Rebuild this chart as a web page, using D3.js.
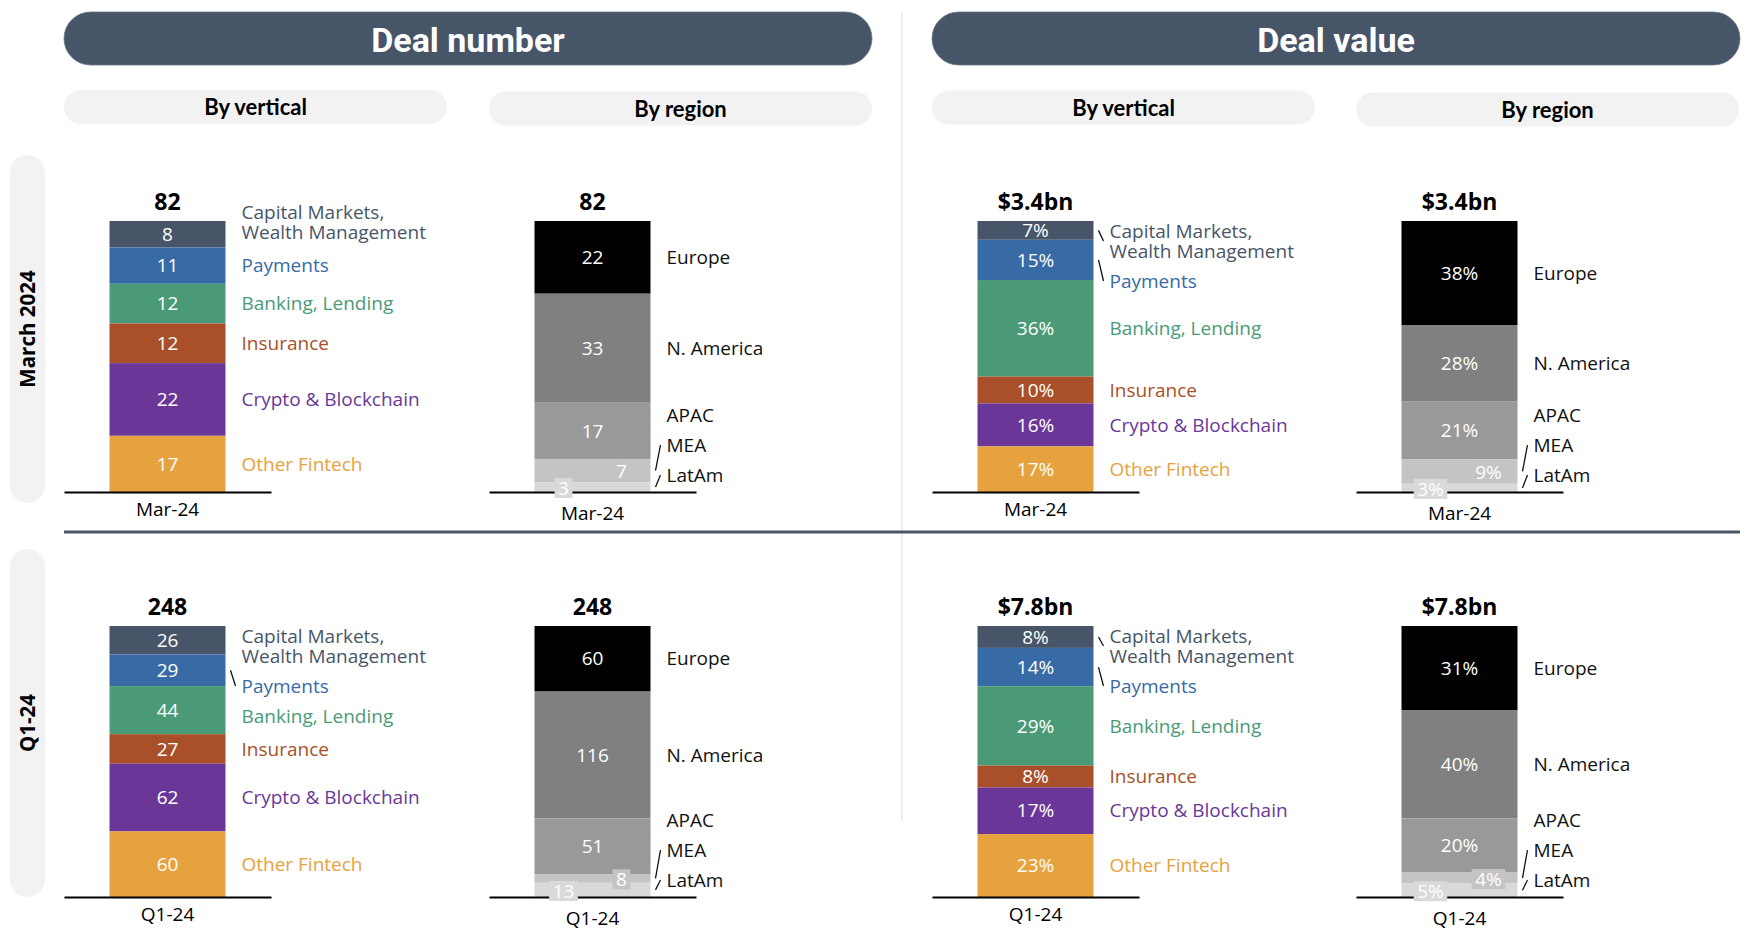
<!DOCTYPE html>
<html><head><meta charset="utf-8">
<script src="https://cdn.jsdelivr.net/npm/d3@7"></script>
<style>body{margin:0;background:#fff}</style>
</head><body><svg id="c" width="1762" height="940"></svg>
<script>
// ---------------- DATA ----------------
const periods = ["Mar-24", "Q1-24"];
const rowTitles = ["March 2024", "Q1-24"];
const sectionTitles = ["Deal number", "Deal value"];
const panelTitles = ["By vertical", "By region"];
const verticals = ["Capital Markets,\nWealth Management", "Payments", "Banking, Lending", "Insurance", "Crypto & Blockchain", "Other Fintech"];
const regions = ["Europe", "N. America", "APAC", "MEA", "LatAm"];
const numberByVerticalMar = [8, 11, 12, 12, 22, 17];
const numberByVerticalQ1 = [26, 29, 44, 27, 62, 60];
const numberByRegionMar = [22, 33, 17, 7, 3];
const numberByRegionQ1 = [60, 116, 51, 8, 13];
const valueByVerticalMar = [7, 15, 36, 10, 16, 17];
const valueByVerticalQ1 = [8, 14, 29, 8, 17, 23];
const valueByRegionMar = [38, 28, 21, 9, 3];
const valueByRegionQ1 = [31, 40, 20, 4, 5];
const valueTotalsBn = [3.4, 7.8];

// ---------------- STYLE / LAYOUT ----------------
const verticalColors = ["#485569", "#386ba5", "#4a9a78", "#a9502a", "#6a3799", "#e6a23e"];
const regionColors = ["#000000", "#808080", "#999999", "#c4c4c4", "#d9d9d9"];
const FONT = "'Open Sans', sans-serif";
const svg = d3.select("#c");

const dataTable = {
  "0-vertical": [numberByVerticalMar, numberByVerticalQ1],
  "0-region": [numberByRegionMar, numberByRegionQ1],
  "1-vertical": [valueByVerticalMar, valueByVerticalQ1],
  "1-region": [valueByRegionMar, valueByRegionQ1]
};
const cols = [
  {x0: 64, section: 0, kind: "vertical", pillY: 90},
  {x0: 489, section: 0, kind: "region", pillY: 91.5},
  {x0: 932, section: 1, kind: "vertical", pillY: 90.5},
  {x0: 1356, section: 1, kind: "region", pillY: 92.5}
];
const rows = [{axisY: 492, pillY: 155}, {axisY: 897, pillY: 549}];
const barH = 271, axisW = 207, pillW = 383;
const labelModes = {"0-0": "up"};
const insetPos = {3: 0.75, 4: 0.25}; // region small segments: label x position within bar

// section title pills
sectionTitles.forEach((t, s) => {
  const x = s === 0 ? 64 : 932;
  svg.append("rect").attr("x", x).attr("y", 12).attr("width", 808).attr("height", 53)
    .attr("rx", 26.5).attr("fill", "#475569").attr("stroke", "#6b7789").attr("stroke-width", 0.8);
  svg.append("text").attr("x", x + 404).attr("y", 39.5).attr("dy", "0.355em")
    .attr("text-anchor", "middle").attr("fill", "#fff")
    .style("font-family", "Roboto, sans-serif").style("font-weight", 700).style("font-size", "34px").text(t);
});

// sub pills
cols.forEach(c => {
  svg.append("rect").attr("x", c.x0).attr("y", c.pillY).attr("width", pillW).attr("height", 34)
    .attr("rx", 17).attr("fill", "#f2f2f2");
  svg.append("text").attr("x", c.x0 + pillW / 2).attr("y", c.pillY + 17.5).attr("dy", "0.35em")
    .attr("text-anchor", "middle").attr("fill", "#000")
    .style("font-family", "Lato, sans-serif").style("font-weight", 700).style("font-size", "22px")
    .text(panelTitles[c.kind === "vertical" ? 0 : 1]);
});

// row pills
rows.forEach((r, i) => {
  svg.append("rect").attr("x", 10).attr("y", r.pillY).attr("width", 35).attr("height", 348)
    .attr("rx", 17.5).attr("fill", "#f2f2f2");
  svg.append("text").attr("transform", `translate(27.5,${r.pillY + 174}) rotate(-90)`)
    .attr("dy", "0.36em").attr("text-anchor", "middle").attr("fill", "#000")
    .style("font-family", FONT).style("font-weight", 700).style("font-size", "20.5px").text(rowTitles[i]);
});

// separators
svg.append("line").attr("x1", 902).attr("x2", 902).attr("y1", 13).attr("y2", 820)
  .attr("stroke", "#e6e6e6").attr("stroke-width", 1.5);
svg.append("line").attr("x1", 64).attr("x2", 1740).attr("y1", 532).attr("y2", 532)
  .attr("stroke", "#4a5568").attr("stroke-width", 3);

function layoutLabels(items, top, bottom, mode) {
  const half = it => (it.n - 1) * 10;
  if (mode === "down") {
    items.forEach((it, i) => {
      const minF = i === 0 ? top + 10 : items[i - 1].c + half(items[i - 1]) + 30;
      if (it.c - half(it) < minF) it.c = minF + half(it);
    });
  }
  for (let i = items.length - 1; i >= 0; i--) {
    const it = items[i];
    const maxL = i === items.length - 1 ? bottom - 17 : items[i + 1].c - half(items[i + 1]) - (mode === "up" ? 33 : 30);
    if (it.c + half(it) > maxL) it.c = maxL - half(it);
  }
}

function drawPanel(col, ri, ci) {
  const row = rows[ri];
  const values = dataTable[col.section + "-" + col.kind][ri];
  const cats = col.kind === "vertical" ? verticals : regions;
  const colors = col.kind === "vertical" ? verticalColors : regionColors;
  const total = d3.sum(values);
  const period = periods[ri];
  const x = d3.scaleBand().domain([period]).range([col.x0, col.x0 + axisW]).padding(0.2818);
  const y = d3.scaleLinear().domain([0, total]).range([row.axisY, row.axisY - barH]);
  const bx = x(period), bw = x.bandwidth();
  const g = svg.append("g");

  const cum = d3.cumsum(values);
  const segs = values.map((v, i) => {
    const above = cum[i] - v;
    return {i, v, top: y(total - above), bot: y(total - above - v)};
  });

  g.selectAll("rect.seg").data(segs).join("rect").attr("class", "seg")
    .attr("x", bx).attr("width", bw)
    .attr("y", d => d.top).attr("height", d => d.bot - d.top)
    .attr("fill", d => colors[d.i]);

  // axis
  const ax = g.append("g").attr("transform", `translate(0,${row.axisY})`)
    .call(d3.axisBottom(x).tickSize(0).tickSizeOuter(0).tickPadding(col.kind === "vertical" ? 10.5 : 14.5));
  ax.select(".domain").attr("stroke", "#000").attr("stroke-width", 2);
  ax.selectAll("text").style("font-family", FONT).style("font-size", "19px").attr("fill", "#000");

  // segment value labels
  const fmt = v => col.section === 0 ? String(v) : v + "%";
  segs.forEach(d => {
    const inset = col.kind === "region" && insetPos[d.i] !== undefined;
    const cx = inset ? bx + bw * insetPos[d.i] : bx + bw / 2;
    const cy = (d.top + d.bot) / 2 + (inset ? 1 : 0);
    const t = g.append("text").attr("x", cx).attr("y", cy).attr("dy", "0.35em")
      .attr("text-anchor", "middle").attr("fill", "#fff")
      .style("font-family", FONT).style("font-size", "19px").text(fmt(d.v));
    if (inset) {
      const w = t.node().getComputedTextLength() + 7;
      g.insert("rect", () => t.node()).attr("x", cx - w / 2).attr("y", cy - 10).attr("width", w).attr("height", 20)
        .attr("fill", colors[d.i]);
    }
  });

  // total label
  const totalText = col.section === 0 ? String(total) : "$" + valueTotalsBn[ri] + "bn";
  g.append("text").attr("x", bx + bw / 2).attr("y", y(total) - 11).attr("text-anchor", "middle")
    .attr("fill", "#000").style("font-family", FONT).style("font-weight", 700).style("font-size", "23px")
    .text(totalText);

  // category labels
  const items = segs.map(d => ({i: d.i, c: (d.top + d.bot) / 2, n: cats[d.i].split("\n").length, seg: d}));
  layoutLabels(items, y(total), y(0), labelModes[ri + "-" + ci] || "down");
  const lx = bx + bw + 16;
  items.forEach(it => {
    const lines = cats[it.i].split("\n");
    const t = g.append("text").attr("x", lx)
      .attr("fill", col.kind === "vertical" ? colors[it.i] : "#111")
      .style("font-family", FONT).style("font-size", "19px");
    lines.forEach((ln, k) => {
      t.append("tspan").attr("x", lx).attr("y", it.c - (lines.length - 1) * 10 + k * 20)
        .attr("dy", "0.35em").text(ln);
    });
    const sc = (it.seg.top + it.seg.bot) / 2;
    if (it.c < it.seg.top - 2 || it.c > it.seg.bot - 3) {
      g.append("line").attr("x1", bx + bw + 5).attr("y1", sc).attr("x2", bx + bw + 10).attr("y2", it.c)
        .attr("stroke", "#111").attr("stroke-width", 1.3);
    }
  });
}

rows.forEach((r, ri) => cols.forEach((c, ci) => drawPanel(c, ri, ci)));
</script>
</body></html>
